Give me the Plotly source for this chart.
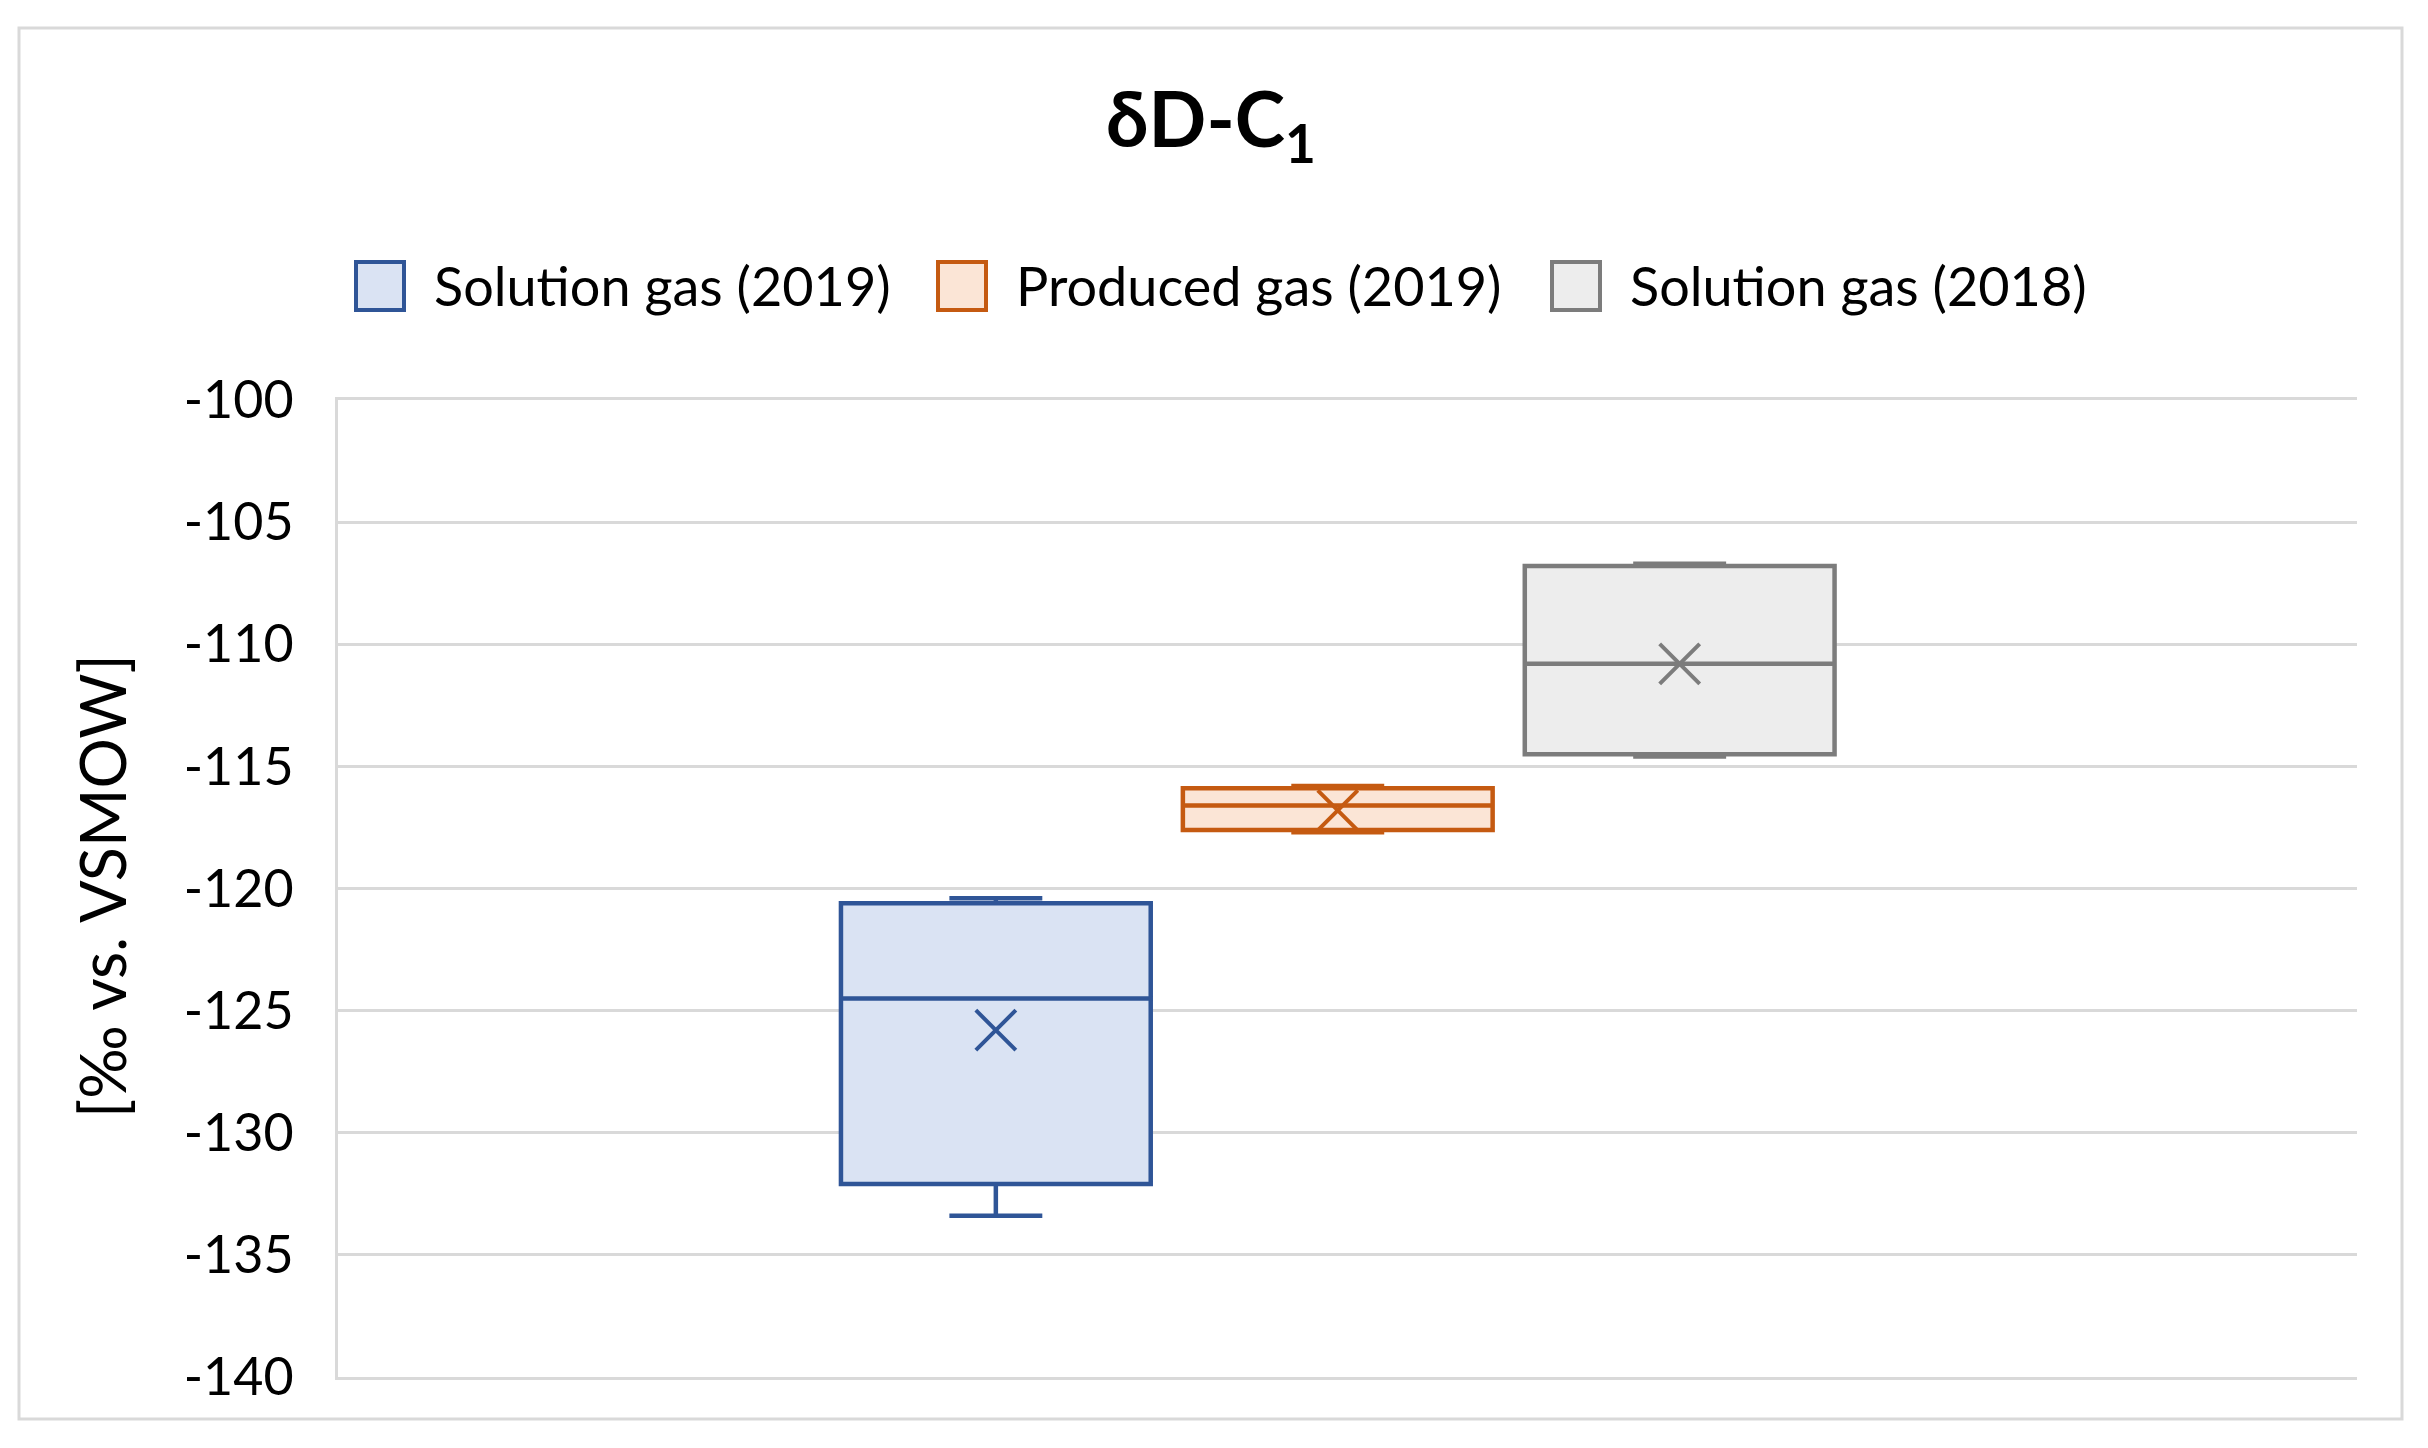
import plotly.graph_objects as go

# series
series = ['Solution gas (2019)', 'Produced gas (2019)', 'Solution gas (2018)']
lower = [-133.4, -117.7, -114.6]
q1 = [-132.1, -117.6, -114.5]
median = [-124.5, -116.6, -110.8]
q3 = [-120.6, -115.9, -106.8]
upper = [-120.4, -115.8, -106.7]
means = [-125.8, -116.8, -110.8]

line_colors = ['#2F5597', '#C55A11', '#7C7C7C']
fill_colors = ['#DAE3F3', '#FBE5D6', '#EDEDED']

y_ticks = list(range(-140, -99, 5))

W, H = 2428, 1448
ML, MR, MT, MB = 338, 71, 400, 71
FONT = 'Lato'


def px(x):  # pixel -> paper x
  return (x - ML) / (W - ML - MR)


def py(y):  # pixel -> paper y
  return (H - MB - y) / (H - MT - MB)


fig = go.Figure()

for i, name in enumerate(series):
  fig.add_trace(go.Box(
    x=[name], q1=[q1[i]], median=[median[i]], q3=[q3[i]],
    lowerfence=[lower[i]], upperfence=[upper[i]],
    name=name, boxpoints=False, whiskerwidth=0.3, width=0.906,
    line=dict(color=line_colors[i], width=4.5), fillcolor=fill_colors[i],
    showlegend=False))

# mean markers
fig.add_trace(go.Scatter(
  x=series, y=means, mode='markers', showlegend=False,
  marker=dict(symbol='x-thin', size=40, line=dict(color=line_colors, width=4))))

# legend drawn by hand so the swatches can be big like the original
icon_x = [356, 938, 1552]
for i, name in enumerate(series):
  fig.add_shape(type='rect', xref='paper', yref='paper',
                x0=px(icon_x[i]), x1=px(icon_x[i] + 48), y0=py(310), y1=py(262),
                line=dict(color=line_colors[i], width=4), fillcolor=fill_colors[i])
  fig.add_annotation(xref='paper', yref='paper', x=px(icon_x[i] + 76), y=py(286),
                     text=name, showarrow=False, xanchor='left', yanchor='middle',
                     font=dict(family=FONT, size=54, color='#000000'))

# y axis title
fig.add_annotation(xref='paper', yref='paper', x=px(101), y=py(886), textangle=-90,
                   text='[‰ vs. VSMOW]', showarrow=False, xanchor='center', yanchor='middle',
                   font=dict(family=FONT, size=63, color='#000000'))

# outer chart border
fig.add_shape(type='rect', xref='paper', yref='paper',
              x0=px(19), x1=px(2402), y0=py(1419), y1=py(28),
              line=dict(color='#D9D9D9', width=3), fillcolor='rgba(0,0,0,0)', layer='below')

fig.update_layout(
  width=W, height=H,
  margin=dict(l=ML, r=MR, t=MT, b=MB),
  paper_bgcolor='white', plot_bgcolor='white',
  boxmode='overlay',
  title=dict(text='<b>δD-C<sub>1</sub></b>', x=1211 / W, xanchor='center',
             y=1 - 120 / H, yanchor='middle',
             font=dict(family=FONT, size=76, color='#000000')),
  font=dict(family=FONT, color='#000000'),
  xaxis=dict(type='category', range=[-1.924, 3.981], showticklabels=False,
             showgrid=False, zeroline=False, showline=True, mirror=True,
             linecolor='#D9D9D9', linewidth=3),
  yaxis=dict(range=[-140, -100], tickvals=y_ticks, ticktext=[str(v) for v in y_ticks],
             ticks='', ticklabelstandoff=31, automargin=False,
             tickfont=dict(family=FONT, size=52, color='#000000'),
             showgrid=True, gridcolor='#D9D9D9', gridwidth=3, zeroline=False,
             showline=True, linecolor='#D9D9D9', linewidth=3),
)

fig.write_html('out.html', config={'displayModeBar': False},
               post_script="document.body.style.margin='0';")
